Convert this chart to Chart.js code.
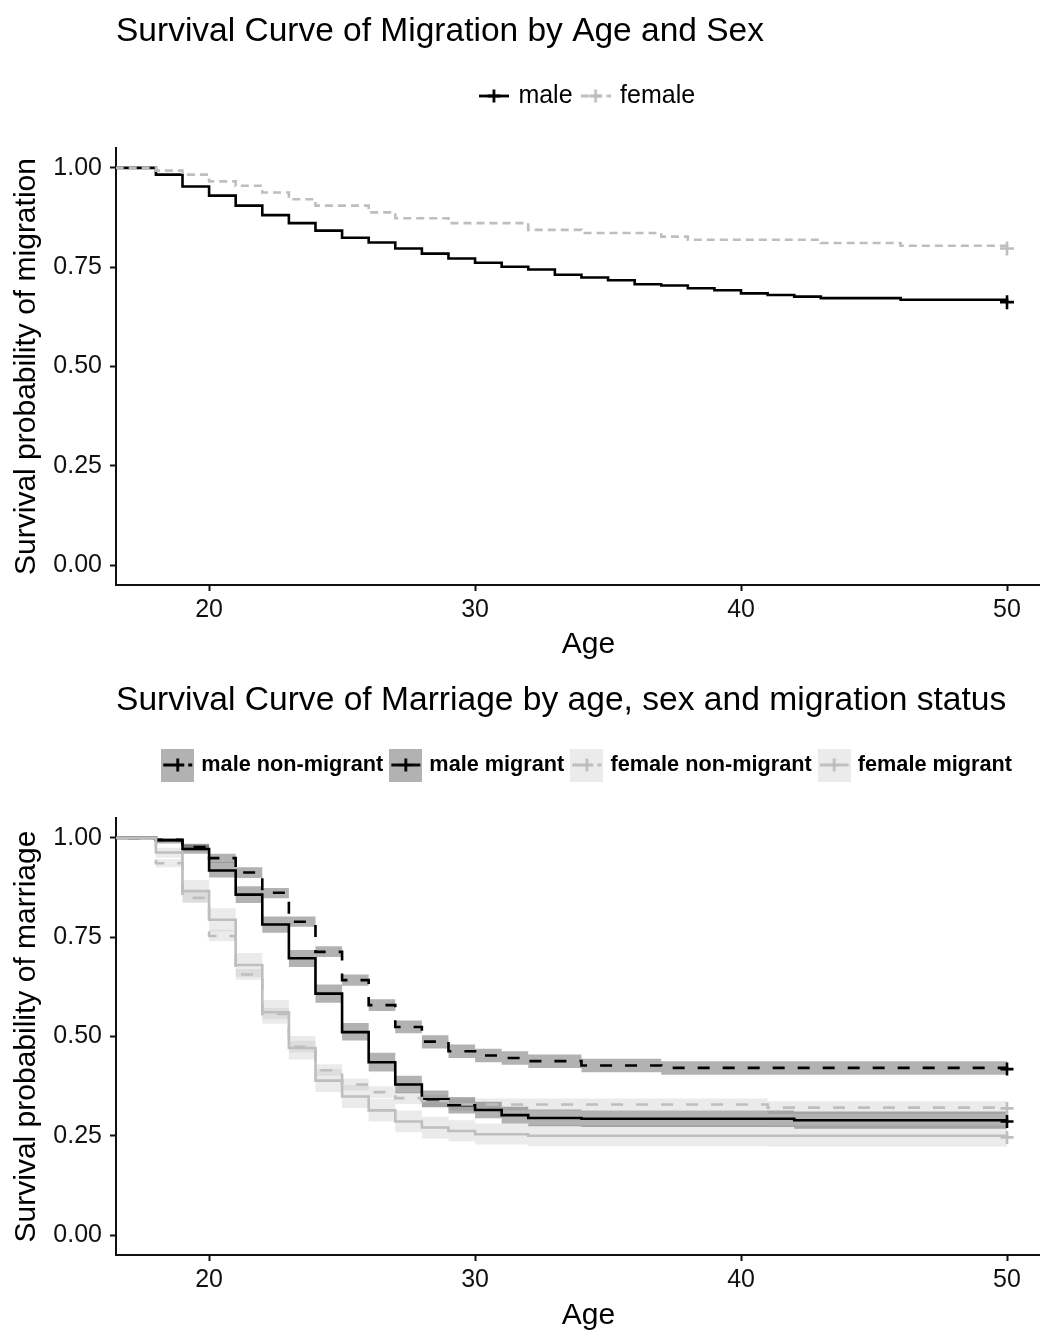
<!DOCTYPE html>
<html>
<head>
<meta charset="utf-8">
<title>Survival curves</title>
<script src="https://cdn.jsdelivr.net/npm/chart.js@4.4.1/dist/chart.umd.min.js"></script>
<style>
  html, body { margin: 0; padding: 0; background: #fff; overflow: hidden; }
  #page { width: 1040px; height: 1333px; overflow: hidden; position: relative; background: #fff; }
  .panel { position: absolute; left: 0; width: 1061px; }
  #migPanel { top: 0; height: 666px; }
  #marPanel { top: 666px; height: 667px; }
  canvas { display: block; }
</style>
</head>
<body>
<div id="page">
  <div class="panel" id="migPanel"><canvas id="migChart" width="1061" height="666"></canvas></div>
  <div class="panel" id="marPanel"><canvas id="marChart" width="1061" height="667"></canvas></div>
</div>
<script>
// ---------- Kaplan–Meier estimates: migration by sex ----------
const migAges   = [16, 18, 19, 20, 21, 22, 23, 24, 25, 26, 27, 28, 29, 30, 31, 32, 33, 34, 35, 36, 37, 38, 39, 40, 41, 42, 43, 46, 50];
const migMale   = [1, 0.983, 0.953, 0.930, 0.905, 0.881, 0.861, 0.842, 0.824, 0.812, 0.797, 0.784, 0.772, 0.761, 0.751, 0.744, 0.731, 0.724, 0.717, 0.707, 0.704, 0.697, 0.692, 0.684, 0.680, 0.676, 0.672, 0.668, 0.662];
const migFemale = [1, 0.993, 0.983, 0.966, 0.955, 0.938, 0.921, 0.905, 0.905, 0.888, 0.873, 0.873, 0.861, 0.861, 0.861, 0.844, 0.844, 0.836, 0.836, 0.836, 0.827, 0.819, 0.819, 0.819, 0.819, 0.819, 0.811, 0.804, 0.797];
const migLegend = ['male', 'female'];

// ---------- Kaplan–Meier estimates with 95% bands: marriage ----------
const marAges = [16, 18, 19, 20, 21, 22, 23, 24, 25, 26, 27, 28, 29, 30, 31, 32, 33, 34, 37, 41, 42, 50];
const maleNonMig   = [1, 0.995, 0.977, 0.949, 0.913, 0.862, 0.789, 0.713, 0.642, 0.579, 0.524, 0.487, 0.463, 0.452, 0.446, 0.438, 0.438, 0.427, 0.421, 0.421, 0.421, 0.418];
const maleNonMigLo = [1, 0.990, 0.968, 0.937, 0.899, 0.848, 0.776, 0.700, 0.628, 0.564, 0.508, 0.470, 0.446, 0.435, 0.429, 0.421, 0.421, 0.410, 0.404, 0.404, 0.404, 0.404];
const maleNonMigHi = [1, 0.999, 0.985, 0.960, 0.926, 0.874, 0.802, 0.727, 0.656, 0.594, 0.540, 0.503, 0.480, 0.469, 0.463, 0.455, 0.455, 0.444, 0.438, 0.438, 0.438, 0.438];
const maleMig      = [1, 0.994, 0.972, 0.918, 0.857, 0.782, 0.697, 0.608, 0.511, 0.435, 0.379, 0.342, 0.327, 0.315, 0.302, 0.295, 0.295, 0.293, 0.293, 0.293, 0.289, 0.286];
const maleMigLo    = [1, 0.986, 0.960, 0.900, 0.836, 0.761, 0.675, 0.585, 0.490, 0.412, 0.357, 0.322, 0.306, 0.294, 0.281, 0.274, 0.274, 0.272, 0.272, 0.272, 0.268, 0.268];
const maleMigHi    = [1, 0.999, 0.983, 0.938, 0.878, 0.802, 0.718, 0.631, 0.534, 0.459, 0.401, 0.364, 0.348, 0.336, 0.323, 0.316, 0.316, 0.314, 0.314, 0.314, 0.311, 0.311];
const femNonMig    = [1, 0.936, 0.849, 0.753, 0.656, 0.557, 0.474, 0.415, 0.379, 0.360, 0.345, 0.337, 0.329, 0.329, 0.329, 0.329, 0.329, 0.329, 0.329, 0.321, 0.321, 0.319];
const femNonMigLo  = [1, 0.926, 0.836, 0.740, 0.643, 0.544, 0.460, 0.401, 0.364, 0.345, 0.330, 0.322, 0.314, 0.314, 0.314, 0.314, 0.314, 0.314, 0.314, 0.305, 0.305, 0.305];
const femNonMigHi  = [1, 0.946, 0.862, 0.768, 0.670, 0.572, 0.489, 0.430, 0.394, 0.375, 0.360, 0.352, 0.344, 0.344, 0.344, 0.344, 0.344, 0.344, 0.344, 0.337, 0.337, 0.337];
const femMig       = [1, 0.963, 0.866, 0.794, 0.680, 0.561, 0.471, 0.389, 0.349, 0.314, 0.286, 0.271, 0.262, 0.254, 0.254, 0.250, 0.250, 0.250, 0.250, 0.250, 0.250, 0.246];
const femMigLo     = [1, 0.950, 0.838, 0.765, 0.650, 0.532, 0.442, 0.360, 0.320, 0.286, 0.259, 0.243, 0.236, 0.228, 0.228, 0.224, 0.224, 0.224, 0.224, 0.223, 0.223, 0.222];
const femMigHi     = [1, 0.975, 0.894, 0.823, 0.710, 0.592, 0.501, 0.418, 0.378, 0.343, 0.314, 0.298, 0.289, 0.281, 0.281, 0.277, 0.277, 0.277, 0.277, 0.276, 0.276, 0.275];
const marLegend = ['male non-migrant', 'male migrant', 'female non-migrant', 'female migrant'];

// ---------- shared axis ticks ----------
const ageTicks  = [20, 30, 40, 50];
const survTicks = [0, 0.25, 0.5, 0.75, 1];

Chart.defaults.font.family = "'Liberation Sans', Arial, sans-serif";
Chart.defaults.color = '#000';

const INK = '#111';
const GREY = '#bebebe';
const xy = (ages, vals) => ages.map((a, i) => ({ x: a, y: vals[i] }));
const lastOnly = r => c => (c.dataIndex === c.dataset.data.length - 1 ? r : 0);

// Legend key: optional shaded square, a short line and a censoring cross.
function keyGlyph(w, h, fill, color, dash, inset) {
  const c = document.createElement('canvas');
  c.width = w; c.height = h;
  const g = c.getContext('2d');
  if (fill) { g.fillStyle = fill; g.fillRect(0, 0, w, h); }
  g.strokeStyle = color;
  g.lineWidth = 2.8;
  g.setLineDash(dash);
  g.beginPath(); g.moveTo(inset, h / 2); g.lineTo(w - inset, h / 2); g.stroke();
  g.setLineDash([]);
  const arm = 6.5;
  g.beginPath();
  g.moveTo(w / 2 - arm, h / 2); g.lineTo(w / 2 + arm, h / 2);
  g.moveTo(w / 2, h / 2 - arm); g.lineTo(w / 2, h / 2 + arm);
  g.stroke();
  return c;
}

function axes(yTitle, xHeight, ageTitlePad) {
  return {
    x: {
      type: 'linear', min: 16.5, max: 52.03,
      afterBuildTicks: s => { s.ticks = ageTicks.map(v => ({ value: v })); },
      afterFit: s => { s.height = xHeight; s.paddingLeft = 0; s.paddingRight = 0; },
      ticks: { font: { size: 25 }, color: INK, padding: 4, maxRotation: 0, autoSkip: false, callback: v => String(v) },
      grid: { display: true, drawOnChartArea: false, drawTicks: true, tickLength: 6, tickColor: INK, tickWidth: 2 },
      border: { display: true, color: INK, width: 2 },
      title: { display: true, text: 'Age', color: '#000', font: { size: 30, lineHeight: 1 }, padding: { top: 0, bottom: ageTitlePad } }
    },
    y: {
      type: 'linear', min: -0.05, max: 1.05,
      afterBuildTicks: s => { s.ticks = survTicks.map(v => ({ value: v })); },
      afterFit: s => { s.width = 116; },
      ticks: { font: { size: 25 }, color: INK, padding: 8, callback: v => v.toFixed(2) },
      grid: { display: true, drawOnChartArea: false, drawTicks: true, tickLength: 6, tickColor: INK, tickWidth: 2 },
      border: { display: true, color: INK, width: 2 },
      title: { display: true, text: yTitle, color: '#000', font: { size: 30, lineHeight: 1 }, padding: { top: 12, bottom: 0 } }
    }
  };
}

function headPlugins(titleText, titleSize, titlePad, legendItems, legendFont, legendPad, keyWidth, spacer) {
  return {
    title: {
      display: true, text: titleText, align: 'start', position: 'top', fullSize: false,
      color: '#000', font: { size: titleSize, weight: 'normal', lineHeight: 1.2 }, padding: titlePad
    },
    legend: {
      display: true, position: 'top', align: 'center', fullSize: false,
      labels: {
        usePointStyle: true, pointStyleWidth: keyWidth, padding: legendPad,
        color: '#000', font: legendFont,
        generateLabels: () => legendItems
      }
    },
    // empty box that keeps the gap between the legend and the plotting area
    subtitle: {
      display: true, text: '', position: 'top', weight: 100, fullSize: false,
      font: { size: 10, lineHeight: 1 }, padding: { top: 0, bottom: spacer }
    },
    tooltip: { enabled: false }
  };
}

// ---------- top panel: migration ----------
const migKeys = [
  keyGlyph(30, 20, null, '#000', [], 0),
  keyGlyph(30, 20, null, GREY, [8, 5], 0)
];
new Chart(document.getElementById('migChart'), {
  type: 'line',
  data: {
    datasets: [
      {
        label: migLegend[0], data: xy(migAges, migMale), stepped: true, order: 2,
        borderColor: '#000', borderWidth: 2.6, fill: false,
        pointStyle: 'cross', pointRadius: lastOnly(7), pointBorderWidth: 2.6,
        pointBorderColor: '#000', pointBackgroundColor: '#000'
      },
      {
        label: migLegend[1], data: xy(migAges, migFemale), stepped: true, order: 1,
        borderColor: GREY, borderWidth: 2.6, borderDash: [8, 5], fill: false,
        pointStyle: 'cross', pointRadius: lastOnly(7), pointBorderWidth: 2.6,
        pointBorderColor: GREY, pointBackgroundColor: GREY
      }
    ]
  },
  options: {
    responsive: false, animation: false, events: [],
    layout: { padding: 0, autoPadding: false },
    scales: axes('Survival probability of migration', 81, 6),
    plugins: headPlugins(
      'Survival Curve of Migration by Age and Sex', 33.5,
      { top: 11.9, bottom: 20.4 },
      migLegend.map((t, i) => ({ text: t, pointStyle: migKeys[i], fontColor: '#000', lineWidth: 0, hidden: false, datasetIndex: i })),
      { size: 25 }, 11, 24, 19.5
    )
  }
});

// ---------- bottom panel: marriage ----------
const MALE_BAND = 'rgba(0,0,0,0.3)';
const FEM_BAND = 'rgba(190,190,190,0.3)';
const marSeries = [
  { label: marLegend[0], surv: maleNonMig, lo: maleNonMigLo, hi: maleNonMigHi, color: '#000', band: MALE_BAND, dash: [12, 13], order: 4 },
  { label: marLegend[1], surv: maleMig,    lo: maleMigLo,    hi: maleMigHi,    color: '#000', band: MALE_BAND, dash: [],       order: 3 },
  { label: marLegend[2], surv: femNonMig,  lo: femNonMigLo,  hi: femNonMigHi,  color: GREY,   band: FEM_BAND,  dash: [12, 13], order: 2 },
  { label: marLegend[3], surv: femMig,     lo: femMigLo,     hi: femMigHi,     color: GREY,   band: FEM_BAND,  dash: [],       order: 1 }
];
const marDatasets = [];
marSeries.forEach(s => {
  marDatasets.push({
    label: s.label + ' (lower)', data: xy(marAges, s.lo), stepped: true, order: 10,
    borderColor: 'rgba(0,0,0,0)', borderWidth: 0, pointRadius: 0, fill: false
  });
  marDatasets.push({
    label: s.label + ' (upper)', data: xy(marAges, s.hi), stepped: true, order: 10,
    borderColor: 'rgba(0,0,0,0)', borderWidth: 0, pointRadius: 0, fill: '-1', backgroundColor: s.band
  });
});
marSeries.forEach(s => {
  marDatasets.push({
    label: s.label, data: xy(marAges, s.surv), stepped: true, order: s.order,
    borderColor: s.color, borderWidth: 2.6, borderDash: s.dash, fill: false,
    pointStyle: 'cross', pointRadius: lastOnly(6.5), pointBorderWidth: 2.6,
    pointBorderColor: s.color, pointBackgroundColor: s.color
  });
});
const marKeys = marSeries.map(s => keyGlyph(33, 33, s.band, s.color, s.dash, 2));

new Chart(document.getElementById('marChart'), {
  type: 'line',
  data: { datasets: marDatasets },
  options: {
    responsive: false, animation: false, events: [],
    layout: { padding: 0, autoPadding: false },
    scales: axes('Survival probability of marriage', 78, 2),
    plugins: headPlugins(
      'Survival Curve of Marriage by age, sex and migration status', 33.6,
      { top: 14.84, bottom: 23.24 },
      marLegend.map((t, i) => ({ text: t, pointStyle: marKeys[i], fontColor: '#000', lineWidth: 0, hidden: false, datasetIndex: 8 + i })),
      { size: 21.7, weight: 'bold' }, 9.75, 25.5, 22.15
    )
  }
});
</script>
</body>
</html>
